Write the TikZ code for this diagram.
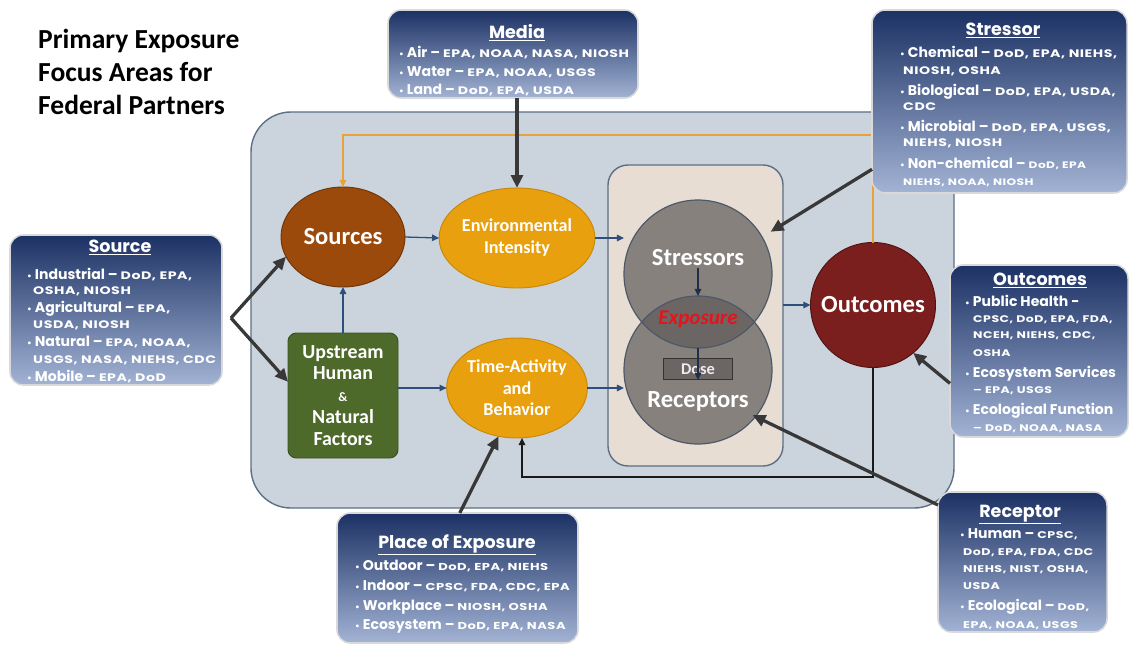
\documentclass[tikz,border=0pt]{standalone}
\usepackage{fontspec}
\setmainfont{Carlito}
\newfontfamily\bxfont{Poppins}
\newfontfamily\agfont{Poppins}[FakeStretch=1.3, LetterSpace=5]
\usetikzlibrary{shapes.geometric,arrows.meta}
\definecolor{bgblue}{HTML}{CBD4DC}
\definecolor{bgedge}{HTML}{5B6F87}
\definecolor{beige}{HTML}{E7DDD3}
\definecolor{greyc}{HTML}{87817E}
\definecolor{greyd}{HTML}{6B6664}
\definecolor{circedge}{HTML}{4C5869}
\definecolor{srcbrown}{HTML}{9B4A0B}
\definecolor{srcedge}{HTML}{6E3508}
\definecolor{envorange}{HTML}{E9A00E}
\definecolor{envedge}{HTML}{C7880C}
\definecolor{upgreen}{HTML}{4D6A2B}
\definecolor{upedge}{HTML}{3A5220}
\definecolor{outred}{HTML}{7A1E1E}
\definecolor{outedge}{HTML}{4E1414}
\definecolor{boxtop}{HTML}{1C3164}
\definecolor{boxbot}{HTML}{A2B3D4}
\definecolor{arrblue}{HTML}{2E4F7C}
\definecolor{arrnavy}{HTML}{1F2F4A}
\definecolor{arrdark}{HTML}{383838}
\definecolor{orline}{HTML}{E9A23A}
\definecolor{expred}{HTML}{E3141C}
\definecolor{fbblack}{HTML}{1A1A1A}
\def\agsz{9.3}
\newcommand{\ag}[1]{{\agfont\bfseries\fontsize{\agsz}{11}\selectfont #1}}
\newcommand{\agg}[1]{{\agfont\bfseries\fontsize{8}{10}\selectfont #1}}
\newcommand{\bul}{{\fontsize{8}{8}\selectfont •}\ }
\tikzset{
  bluebox/.style={draw=white!70!gray, line width=1.3pt, rounded corners=4mm, top color=boxtop, bottom color=boxbot, inner sep=0pt, outer sep=0pt},
  btitle/.style={anchor=base, inner sep=0pt, text=white, font=\bxfont\bfseries\fontsize{15}{17}\selectfont},
  bitem/.style={anchor=base west, inner sep=0pt, text=white, font=\bxfont\bfseries\fontsize{12}{14}\selectfont},
  thinarr/.style={draw=arrblue, line width=1.1pt, -{Triangle[length=6pt,width=5.5pt]}},
  innerarr/.style={draw=arrnavy, line width=1.1pt, -{Triangle[length=6pt,width=5.5pt]}},
  bigarr/.style={draw=arrdark, line width=2.8pt, -{Triangle[length=11pt,width=10pt]}},
  orarr/.style={draw=orline, line width=1.5pt, -{Triangle[length=6pt,width=5.5pt]}},
  fbarr/.style={draw=fbblack, line width=1.5pt, -{Triangle[length=6pt,width=5.5pt]}},
  ctext/.style={text=white, font=\bfseries\fontsize{21}{24}\selectfont},
  oval/.style={ellipse, line width=0.8pt, inner sep=0pt, outer sep=0pt, align=center},
  greycirc/.style={circle, fill=greyc, minimum size=44.4mm, inner sep=0pt, outer sep=0pt},
  titletext/.style={anchor=base west, inner sep=0pt, font=\bfseries\fontsize{23.5}{28}\selectfont, text=black}
}
\begin{document}
\begin{tikzpicture}[x=0.3mm,y=-0.3mm]
\useasboundingbox (0,0) rectangle (1130,645);
\fill[white] (0,0) rectangle (1130,645);

% title
\node[titletext] (title1) at (38,48) {Primary Exposure};
\node[titletext] (title2) at (38,81) {Focus Areas for};
\node[titletext] (title3) at (38,114) {Federal Partners};

% main area
\node[draw=bgedge, fill=bgblue, line width=1.2pt, rounded corners=12mm, minimum width=210.9mm, minimum height=118.8mm, inner sep=0pt, outer sep=0pt] (bigarea) at (602.5,310) {};

\node[draw=bgedge, fill=beige, line width=1.2pt, rounded corners=6mm, minimum width=52.5mm, minimum height=90.3mm, inner sep=0pt, outer sep=0pt] (exparea) at (695.5,315.5) {};

% ovals
\node[oval, fill=srcbrown, draw=srcedge, minimum width=37.2mm, minimum height=30mm, ctext] (sources) at (343,237) {Sources};
\node[oval, fill=envorange, draw=envedge, minimum width=38.1mm, minimum height=30mm, text=white, font=\bfseries\fontsize{15.5}{18.7}\selectfont] (env) at (517,238) {Environmental\\Intensity};
\node[oval, fill=envorange, draw=envedge, minimum width=38.1mm, minimum height=30mm, text=white, font=\bfseries\fontsize{15.5}{18.3}\selectfont] (time) at (517,388) {Time-Activity\\and\\Behavior};
\node[rectangle, rounded corners=2.5mm, fill=upgreen, draw=upedge, line width=0.8pt, minimum width=33mm, minimum height=37.5mm, inner sep=0pt, outer sep=0pt, align=center, text=white, font=\bfseries\fontsize{17}{18.7}\selectfont] (upstream) at (343,395.5) {Upstream\\Human\\{\fontsize{11}{11}\selectfont\&}\\Natural\\Factors};

% outcomes and orange feedback line
\coordinate (otop) at (343,135);
\node[circle, fill=outred, draw=outedge, line width=0.8pt, minimum size=37.5mm, inner sep=0pt, outer sep=0pt, ctext] (outcomes) at (873,305) {Outcomes};
\draw[orarr] (outcomes.north) |- (otop) -- (sources.north);

% stressors / receptors
\node[greycirc] (stressors) at (698,274) {};
\node[greycirc] (receptors) at (698,370) {};
\begin{scope}
  \clip (698,274) circle[radius=22.2mm];
  \fill[greyd] (698,370) circle[radius=22.2mm];
\end{scope}
\draw[circedge, line width=1pt] (698,274) circle[radius=22.2mm];
\draw[circedge, line width=1pt] (698,370) circle[radius=22.2mm];
\node[ctext, inner sep=1pt] (strT) at (698,258) {Stressors};
\node[ctext, inner sep=1pt] (recT) at (698,401) {Receptors};
\node[text=expred, font=\bfseries\itshape\fontsize{18}{20}\selectfont, inner sep=0pt] (expo) at (698,319) {Exposure};
\node[draw=black!80, fill=greyd, line width=1pt, minimum width=20.7mm, minimum height=6.3mm, inner sep=0pt, text=white!85!gray, font=\bfseries\fontsize{14}{14}\selectfont] (dose) at (698,369) {Dose};
\draw[innerarr] (strT.south) -- (receptors.north);
\draw[innerarr] (stressors.south) -- (dose.south);

% thin arrows
\draw[thinarr] (sources.east) -- (env.west);
\draw[thinarr] (upstream.north) -- (sources.south);
\draw[thinarr] (upstream.east |- time.west) -- (time.west);
\draw[thinarr] (env.east) -- (env.east -| stressors.west);
\draw[thinarr] (time.east) -- (time.east -| receptors.west);
\draw[thinarr] (exparea.east |- outcomes.west) -- (outcomes.west);

% black feedback
\coordinate (fbc) at (873,477);
\draw[fbarr] (outcomes.south) -- (fbc) -| ([xshift=1.5mm]time.south);

% ---------- blue boxes ----------
% Media
\def\agsz{9.3}
\node[bluebox, minimum width=75mm, minimum height=26.4mm] (media) at (513,54) {};
\node[btitle] (mediaT) at (517,38) {\underline{Media}};
\foreach \yy/\xx/\txt [count=\i] in {
  57/399/{\bul Air – \ag{EPA, NOAA, NASA, NIOSH}},
  76/399/{\bul Water – \ag{EPA, NOAA, USGS}},
  94/399/{\bul Land – \ag{DoD, EPA, USDA}}}
  \node[bitem] (m\i) at (\xx,\yy) {\txt};

% Stressor
\node[bluebox, minimum width=76.5mm, minimum height=54.9mm] (stressorbox) at (999.5,101.5) {};
\node[btitle] (stressorT) at (1003,35) {\underline{Stressor}};
\foreach \yy/\xx/\txt [count=\i] in {
  57/900/{\bul Chemical – \ag{DoD, EPA, NIEHS,}},
  74/903/{\ag{NIOSH, OSHA}},
  95/900/{\bul Biological – \ag{DoD, EPA, USDA,}},
  110/903/{\ag{CDC}},
  131/900/{\bul Microbial – \ag{DoD, EPA, USGS,}},
  146/903/{\ag{NIEHS, NIOSH}},
  168/900/{\bul Non-chemical – \agg{DoD, EPA}},
  185/903/{\agg{NIEHS, NOAA, NIOSH}}}
  \node[bitem] (s\i) at (\xx,\yy) {\txt};

% Source
\node[bluebox, minimum width=63.6mm, minimum height=45mm] (sourcebox) at (116,310) {};
\node[btitle] (sourceT) at (120,252) {\underline{Source}};
\foreach \yy/\xx/\txt [count=\i] in {
  279/27/{\bul Industrial – \ag{DoD, EPA,}},
  294/33/{\ag{OSHA, NIOSH}},
  312/27/{\bul Agricultural – \ag{EPA,}},
  328/33/{\ag{USDA, NIOSH}},
  346/27/{\bul Natural – \ag{EPA, NOAA,}},
  363/33/{\ag{USGS, NASA, NIEHS, CDC}},
  381/27/{\bul Mobile – \ag{EPA, DoD}}}
  \node[bitem] (so\i) at (\xx,\yy) {\txt};

% Outcomes
\def\agsz{8.2}
\node[bluebox, minimum width=53.4mm, minimum height=51.6mm] (outcomesbox) at (1039,351) {};
\node[btitle] (outcomesT) at (1040,285) {\underline{Outcomes}};
\foreach \yy/\xx/\txt [count=\i] in {
  306/965/{\bul Public Health -},
  322/973/{\ag{CPSC, DoD, EPA, FDA,}},
  338/973/{\ag{NCEH, NIEHS, CDC,}},
  356/973/{\ag{OSHA}},
  377/965/{\bul Ecosystem Services},
  393/973/{\ag{– EPA, USGS}},
  414/965/{\bul Ecological Function},
  431/973/{\ag{– DoD, NOAA, NASA}}}
  \node[bitem] (o\i) at (\xx,\yy) {\txt};

% Place of Exposure
\def\agsz{8.6}
\node[bluebox, minimum width=72.3mm, minimum height=39mm] (placebox) at (457.5,578) {};
\node[btitle] (placeT) at (457,548) {\underline{Place of Exposure}};
\foreach \yy/\xx/\txt [count=\i] in {
  570/355/{\bul Outdoor – \ag{DoD, EPA, NIEHS}},
  590/355/{\bul Indoor – \ag{CPSC, FDA, CDC, EPA}},
  610/355/{\bul Workplace – \ag{NIOSH, OSHA}},
  629/355/{\bul Ecosystem – \ag{DoD, EPA, NASA}}}
  \node[bitem] (p\i) at (\xx,\yy) {\txt};

% Receptor
\def\agsz{8.3}
\node[bluebox, minimum width=50.7mm, minimum height=42mm] (receptorbox) at (1022.5,562) {};
\node[btitle] (receptorT) at (1020,517) {\underline{Receptor}};
\foreach \yy/\xx/\txt [count=\i] in {
  538/960/{\bul Human – \ag{CPSC,}},
  555/963/{\ag{DoD, EPA, FDA, CDC}},
  572/963/{\ag{NIEHS, NIST, OSHA,}},
  589/963/{\ag{USDA}},
  610/960/{\bul Ecological – \ag{DoD,}},
  628/963/{\ag{EPA, NOAA, USGS}}}
  \node[bitem] (r\i) at (\xx,\yy) {\txt};

% ---------- thick arrows ----------
\coordinate (srcJ) at (231,318);
\draw[bigarr] (srcJ) -- (sources.199);
\draw[bigarr] (srcJ) -- (upstream.166);
\draw[bigarr] (media.south -| env.north) -- (env.north);
\draw[bigarr, shorten >=3mm] (stressorbox.208) -- (stressors.30);
\draw[bigarr] (outcomesbox.200) -- (outcomes.-50);
\draw[bigarr] (placebox.88) -- (time.249);
\draw[bigarr, shorten >=-1mm] (receptorbox.146) -- (receptors.-39);
\end{tikzpicture}
\end{document}
